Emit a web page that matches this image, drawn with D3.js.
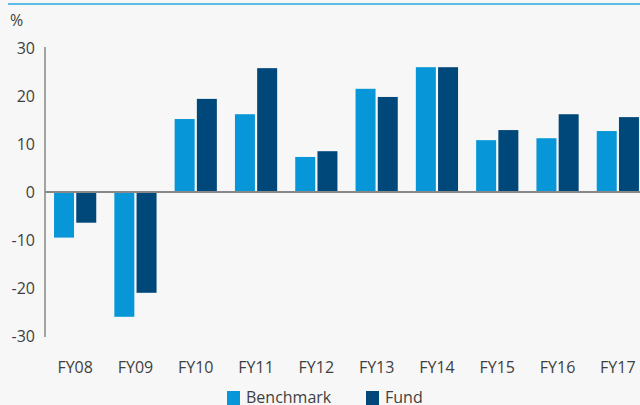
<!DOCTYPE html>
<html>
<head>
<meta charset="utf-8">
<script src="https://cdn.jsdelivr.net/npm/d3@7"></script>
<style>
  html, body { margin: 0; padding: 0; background: #f7f7f7; }
  svg { display: block; }
</style>
</head>
<body>
<svg></svg>
<script>
const width = 640;
const height = 405;

const years = ["FY08", "FY09", "FY10", "FY11", "FY12", "FY13", "FY14", "FY15", "FY16", "FY17"];
const benchmark = [-9.5, -26.0, 15.2, 16.2, 7.3, 21.5, 26.0, 10.8, 11.2, 12.7];
const fund = [-6.4, -21.0, 19.4, 25.8, 8.5, 19.8, 26.0, 12.9, 16.2, 15.6];
const seriesNames = ["Benchmark", "Fund"];
const yTicks = [30, 20, 10, 0, -10, -20, -30];

const colors = ["#0796d7", "#00477a"];
const font = "'Open Sans', 'Noto Sans', sans-serif";

const svg = d3.select('svg')
  .attr('width', width)
  .attr('height', height)
  .style('background', '#f7f7f7');

// top rule
svg.append('line')
  .attr('x1', 8).attr('x2', width)
  .attr('y1', 4).attr('y2', 4)
  .attr('stroke', '#2aa9e0')
  .attr('stroke-width', 1.5);

const x = d3.scaleBand()
  .domain(years)
  .range([45, 648])
  .paddingInner(0.3)
  .paddingOuter(0.15);

const xSub = d3.scaleBand()
  .domain(seriesNames)
  .range([0, x.bandwidth()])
  .paddingInner(0.1);

const y = d3.scaleLinear()
  .domain([-30, 30])
  .range([336, 48]);

// bars
const rows = years.map((yr, i) => ({ year: yr, values: [benchmark[i], fund[i]] }));

const groups = svg.append('g')
  .selectAll('g')
  .data(rows)
  .enter().append('g')
    .attr('transform', d => `translate(${x(d.year)},0)`);

groups.selectAll('rect')
  .data(d => d.values.map((v, j) => ({ name: seriesNames[j], value: v, idx: j })))
  .enter().append('rect')
    .attr('x', d => xSub(d.name))
    .attr('width', xSub.bandwidth())
    .attr('y', d => y(Math.max(0, d.value)))
    .attr('height', d => Math.abs(y(d.value) - y(0)))
    .attr('fill', d => colors[d.idx]);

// y axis line
svg.append('line')
  .attr('x1', 45).attr('x2', 45)
  .attr('y1', 47).attr('y2', 337)
  .attr('stroke', '#888')
  .attr('stroke-width', 1.5);

// zero line
svg.append('line')
  .attr('x1', 45).attr('x2', width)
  .attr('y1', y(0)).attr('y2', y(0))
  .attr('stroke', '#888')
  .attr('stroke-width', 2);

// y tick labels
svg.append('g')
  .selectAll('text')
  .data(yTicks)
  .enter().append('text')
    .attr('x', 35)
    .attr('y', d => y(d))
    .attr('dy', '0.35em')
    .attr('text-anchor', 'end')
    .attr('font-family', font)
    .attr('font-size', 16)
    .attr('fill', '#3f3f3f')
    .text(d => d);

svg.append('text')
  .attr('x', 10).attr('y', 26)
  .attr('font-family', font)
  .attr('font-size', 16)
  .attr('fill', '#3f3f3f')
  .text('%');

// x labels
svg.append('g')
  .selectAll('text')
  .data(years)
  .enter().append('text')
    .attr('x', d => x(d) + x.bandwidth() / 2)
    .attr('y', 373)
    .attr('text-anchor', 'middle')
    .attr('font-family', font)
    .attr('font-size', 16)
    .attr('fill', '#3f3f3f')
    .text(d => d);

// legend
const legendX = [227, 366];
const legend = svg.append('g')
  .selectAll('g')
  .data(seriesNames)
  .enter().append('g')
    .attr('transform', (d, i) => `translate(${legendX[i]},391)`);

legend.append('rect')
  .attr('width', 13).attr('height', 14)
  .attr('fill', (d, i) => colors[i]);

legend.append('text')
  .attr('x', 19).attr('y', 12)
  .attr('font-family', font)
  .attr('font-size', 16)
  .attr('fill', '#3f3f3f')
  .text(d => d);
</script>
</body>
</html>
